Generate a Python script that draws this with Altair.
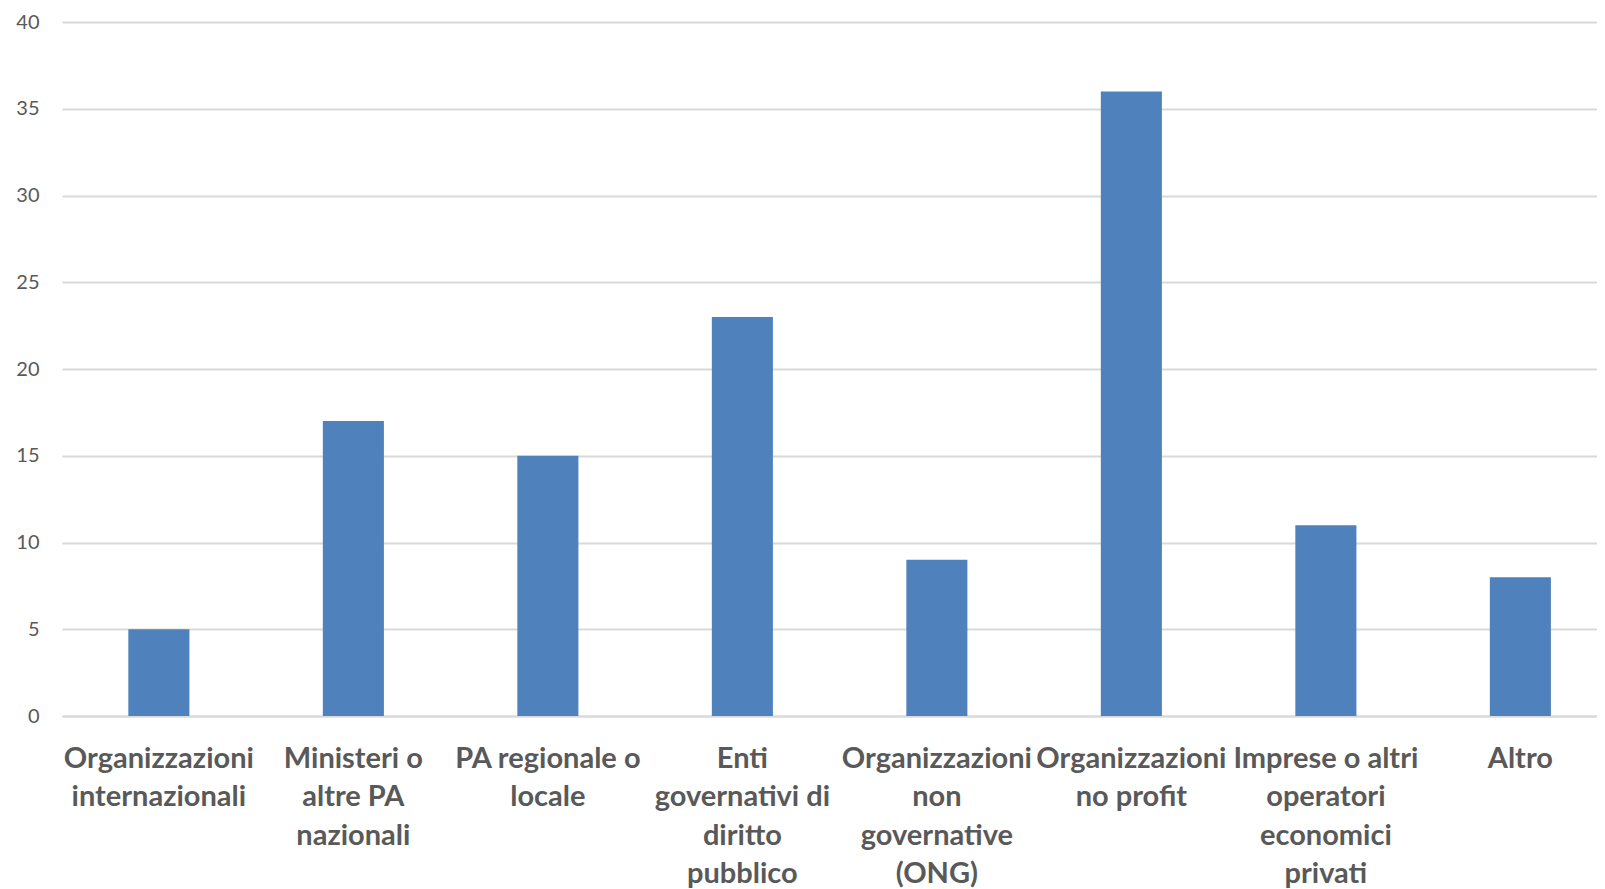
import altair as alt
import pandas as pd

categories = [
    "Organizzazioni\ninternazionali",
    "Ministeri o\naltre PA\nnazionali",
    "PA regionale o\nlocale",
    "Enti\ngovernativi di\ndiritto\npubblico",
    "Organizzazioni\nnon\ngovernative\n(ONG)",
    "Organizzazioni\nno profit",
    "Imprese o altri\noperatori\neconomici\nprivati",
    "Altro",
]
values = [5, 17, 15, 23, 9, 36, 11, 8]
y_ticks = [0, 5, 10, 15, 20, 25, 30, 35, 40]

df = pd.DataFrame({"categoria": categories, "valore": values})

chart = (
    alt.Chart(df)
    .mark_bar(color="#4F81BD")
    .encode(
        x=alt.X(
            "categoria:N",
            sort=categories,
            title=None,
            scale=alt.Scale(paddingInner=0.686, paddingOuter=0.289, align=0.59),
            axis=alt.Axis(
                labelAngle=0,
                labelExpr="split(datum.label, '\\n')",
                labelFont="Lato",
                labelFontWeight="bold",
                labelFontSize=29,
                labelColor="#595959",
                labelLineHeight=38.5,
                labelPadding=28,
                labelLimit=0,
                labelOverlap=False,
                labelBound=False,
                ticks=False,
                domain=True,
                domainColor="#d9d9d9",
                domainWidth=2,
                grid=False,
            ),
        ),
        y=alt.Y(
            "valore:Q",
            title=None,
            scale=alt.Scale(domain=[0, 40], nice=False),
            axis=alt.Axis(
                values=y_ticks,
                labelFont="Lato",
                labelFontSize=20,
                labelColor="#595959",
                labelPadding=23,
                ticks=False,
                domain=False,
                grid=True,
                gridColor="#d9d9d9",
                gridWidth=2,
            ),
        ),
    )
    .properties(
        width=1535,
        height=694,
        background="white",
        autosize=alt.AutoSizeParams(type="none"),
        padding={"left": 54, "top": 14, "right": 0, "bottom": 173},
    )
    .configure_view(strokeWidth=0, strokeOpacity=0)
)

chart.save("out.html", embed_options={"renderer": "svg", "actions": False})
